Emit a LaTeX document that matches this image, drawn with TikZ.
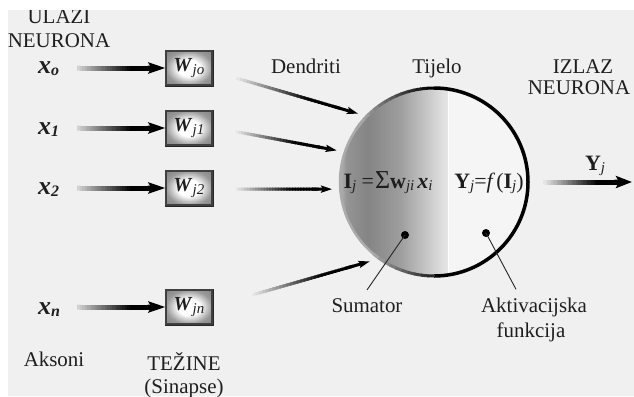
\documentclass[tikz,border=0pt]{standalone}
\usepackage{fontspec}
\setmainfont{Liberation Serif}
\usetikzlibrary{arrows.meta,calc}
\definecolor{bgc}{HTML}{F0F0F0}
\definecolor{rhalf}{HTML}{F5F5F5}
\definecolor{ink}{HTML}{1E1E1E}
\pgfdeclarehorizontalshading{bodyshade}{100bp}{color(0bp)=(black!30); color(25bp)=(black!30); color(28bp)=(black!42); color(38bp)=(black!48); color(53bp)=(black!38); color(72bp)=(black!13); color(75bp)=(black!10); color(100bp)=(black!10)}
\pgfdeclareradialshading{wshade}{\pgfpoint{0bp}{0bp}}{color(0bp)=(white); color(12bp)=(white); color(25bp)=(black!40); color(50bp)=(black!60)}
\newcommand\mysb[1]{\raisebox{-0.25ex}{\fontsize{15}{15}\selectfont\itshape #1}}
\newcommand\mysbb[1]{\raisebox{-0.2ex}{\fontsize{16}{16}\selectfont\bfseries\itshape #1}}
\newcommand\gradarrow[5]{%
  \foreach \i in {0,...,29}{%
    \pgfmathsetmacro\ga{\i/30*0.85}%
    \pgfmathsetmacro\gb{(\i+1.5)/30*0.85}%
    \pgfmathsetmacro\gv{min(100,#5+(100-#5)*\i/21)}%
    \draw[line width=#3, draw=black!\gv] ($(#1)!\ga!(#2)$) -- ($(#1)!\gb!(#2)$);
  }%
  \draw[line width=#3, black, -{#4}] ($(#1)!0.8!(#2)$) -- (#2);
}
\tikzset{
  lbl/.style={font=\fontsize{21}{24}\selectfont, text=ink, inner sep=1bp},
  xl/.style={font=\fontsize{26}{28}\selectfont, text=ink, inner sep=1bp},
  eq/.style={font=\fontsize{22}{24}\selectfont, text=ink, inner sep=1bp},
  wbox/.style={draw=black!75, line width=1.2bp, shading=wshade,
    minimum width=46bp, minimum height=34bp, inner sep=0pt,
    font=\fontsize{20}{22}\selectfont, text=ink},
  dotn/.style={circle, fill=black, minimum size=8bp, inner sep=0pt},
  leader/.style={line width=0.9bp, black!85}
}
\begin{document}
\begin{tikzpicture}[x=1bp,y=1bp]
\useasboundingbox (0,0) rectangle (634,-396);
\fill[white] (0,0) rectangle (634,-396);
\fill[bgc] (8,-10) rectangle (634,-396);
\begin{scope}
  \clip (8,-10) rectangle (634,-396);
  \node[lbl,anchor=base] (ulazi) at (59,-23) {ULAZI};
  \node[lbl,anchor=base] (neur1) at (59,-47) {NEURONA};
  \node[lbl,anchor=base] (aks) at (54,-366) {Aksoni};
  \node[lbl,anchor=base] (tez) at (184,-370) {TEŽINE};
  \node[lbl,anchor=base] (sin) at (184,-393) {(Sinapse)};
\end{scope}

% inputs
\node[xl,anchor=base west] (x0) at (37,-73) {\textbf{\textit{x}}\mysbb{o}};
\node[xl,anchor=base west] (x1) at (37,-134) {\textbf{\textit{x}}\mysbb{1}};
\node[xl,anchor=base west] (x2) at (37,-194) {\textbf{\textit{x}}\mysbb{2}};
\node[xl,anchor=base west] (xn) at (37,-314) {\textbf{\textit{x}}\mysbb{n}};

% weights
\node[wbox] (w0) at (189,-68) {\textbf{\textit{W}}\mysb{jo}};
\node[wbox] (w1) at (189,-128) {\textbf{\textit{W}}\mysb{j1}};
\node[wbox] (w2) at (189,-188) {\textbf{\textit{W}}\mysb{j2}};
\node[wbox] (wn) at (189,-307) {\textbf{\textit{W}}\mysb{jn}};
\foreach \w in {w0,w1,w2,wn}{
  \draw[black!85, line width=1.6bp] ([xshift=1bp]\w.north east) -- ([xshift=1bp,yshift=-1bp]\w.south east) -- ([yshift=-1bp]\w.south west);
}

\coordinate (s0) at (77,-68);
\coordinate (s1) at (77,-128);
\coordinate (s2) at (77,-188);
\coordinate (sn) at (77,-307);
\gradarrow{s0}{w0.west}{5bp}{Stealth[length=17bp,width=11bp,inset=3bp]}{18}
\gradarrow{s1}{w1.west}{5bp}{Stealth[length=17bp,width=11bp,inset=3bp]}{18}
\gradarrow{s2}{w2.west}{5bp}{Stealth[length=17bp,width=11bp,inset=3bp]}{18}
\gradarrow{sn}{wn.west}{5bp}{Stealth[length=17bp,width=11bp,inset=3bp]}{18}

% body
\node[circle, minimum size=188bp, inner sep=0pt] (body) at (434,-182) {};
\node[circle, minimum size=204bp, inner sep=0pt] (bodyo) at (434,-182) {};
\begin{scope}
  \clip (body.center) circle (94);
  \shade[shading=bodyshade] (340,-88) rectangle (448,-276);
  \fill[rhalf] (448,-88) rectangle (528,-276);
  \draw[white, line width=1bp] (448,-88) -- (448,-276);
\end{scope}
\draw[line width=3.5bp, black] (434,-276) arc[start angle=-90, end angle=90, radius=94];
\foreach \a in {90,94,...,142}{
  \pgfmathsetmacro\cv{max(35,100-(\a-90)*1.4)}
  \draw[line width=3bp, draw=black!\cv] ($(body.center)+(\a:94)$) arc[start angle=\a, end angle=\a+4.5, radius=94];
}
\draw[line width=2.5bp, black!33] ($(body.center)+(146:94)$) arc[start angle=146, end angle=232, radius=94];
\foreach \a in {230,234,...,266}{
  \pgfmathsetmacro\cv{min(85,35+(\a-230)*1.4)}
  \draw[line width=3bp, draw=black!\cv] ($(body.center)+(\a:94)$) arc[start angle=\a, end angle=\a+4.5, radius=94];
}

% dendrites
\coordinate (d0) at ($(w0.east)+(20,-9)$);
\coordinate (d1) at ($(w1.east)+(20,-3)$);
\coordinate (d2) at ($(w2.east)+(20,-1)$);
\coordinate (dn) at ($(wn.east)+(36,11)$);
\gradarrow{d0}{bodyo.138}{3bp}{Stealth[length=11bp,width=7bp,inset=2bp]}{5}
\gradarrow{d1}{bodyo.162}{3bp}{Stealth[length=11bp,width=7bp,inset=2bp]}{5}
\gradarrow{d2}{bodyo.184}{3bp}{Stealth[length=11bp,width=7bp,inset=2bp]}{5}
\gradarrow{dn}{bodyo.231}{3bp}{Stealth[length=11bp,width=7bp,inset=2bp]}{5}

% output
\coordinate (os) at ($(body.east)+(15,0)$);
\coordinate (oe) at (632,-182);
\gradarrow{os}{oe}{5bp}{Stealth[length=16bp,width=12bp,inset=3bp]}{10}
\node[eq,anchor=base] (yj) at (595,-170) {\textbf{Y}\mysb{j}};

% labels
\node[lbl,anchor=base] (dend) at (306,-73) {Dendriti};
\node[lbl,anchor=base] (tij) at (437,-73) {Tijelo};
\node[lbl,anchor=base] (izl) at (583,-73) {IZLAZ};
\node[lbl,anchor=base] (neur2) at (579,-94) {NEURONA};

\node[eq,anchor=base] (sumeq) at (388,-188) {\textbf{I}\mysb{j} =\kern1bp{\fontsize{26}{26}\selectfont Σ}\textbf{w}\mysb{ji}\kern3bp\textbf{\textit{x}}\mysb{i}};
\node[eq,anchor=base] (acteq) at (489,-188) {\textbf{Y}\mysb{j}=\textit{f}\kern1bp(\textbf{I}\mysb{j})};

\node[dotn] (dS) at (405,-235) {};
\node[dotn] (dA) at (486,-233) {};
\node[lbl,anchor=base] (sum) at (367,-312) {Sumator};
\node[lbl,anchor=base] (akt) at (534,-312) {Aktivacijska};
\node[lbl,anchor=base] (fun) at (531,-337) {funkcija};
\draw[leader] (dS.center) -- ($(sum.north)+(0,7)$);
\draw[leader] (dA.center) -- ($(akt.north)+(-18,7)$);
\end{tikzpicture}
\end{document}
